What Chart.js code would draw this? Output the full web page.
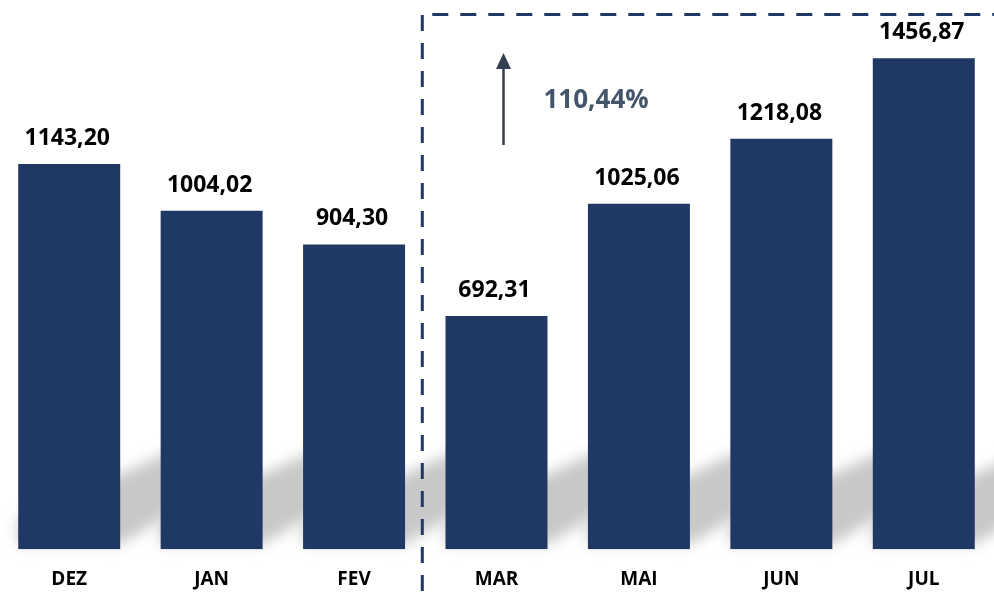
<!DOCTYPE html>
<html>
<head>
<meta charset="utf-8">
<script src="https://cdn.jsdelivr.net/npm/chart.js@4/dist/chart.umd.min.js"></script>
<style>
  html, body { margin: 0; padding: 0; background: #fff; overflow: hidden; }
  #wrap { width: 997px; height: 598px; position: relative; left: -2px; }
</style>
</head>
<body>
<div id="wrap"><canvas id="chart"></canvas></div>
<script>
const months = ['DEZ', 'JAN', 'FEV', 'MAR', 'MAI', 'JUN', 'JUL'];
const values = [1143.20, 1004.02, 904.30, 692.31, 1025.06, 1218.08, 1456.87];
const growthLabel = '110,44%';

const navy = '#203864';
const fontFam = '"Open Sans", "DejaVu Sans", sans-serif';

function fmt(v) {
    return v.toFixed(2).replace('.', ',');
}

// gray slanted shadow behind each bar
const barShadow = {
    id: 'barShadow',
    beforeDatasetsDraw(chart) {
        const ctx = chart.ctx;
        ctx.save();
        ctx.filter = 'blur(7px)';
        ctx.fillStyle = '#c8c8c8';
        chart.getDatasetMeta(0).data.forEach(bar => {
            const L = bar.x - bar.width / 2, R = bar.x + bar.width / 2, B = bar.base;
            ctx.beginPath();
            ctx.moveTo(L, B - 5);
            ctx.lineTo(R, B - 5);
            ctx.lineTo(R + 55, B - 38);
            ctx.lineTo(R + 55, B - 100);
            ctx.lineTo(R, B - 75);
            ctx.lineTo(L, B - 30);
            ctx.closePath();
            ctx.fill();
        });
        ctx.restore();
    }
};

// value labels, dashed box and growth arrow
const extras = {
    id: 'extras',
    afterDatasetsDraw(chart) {
        const ctx = chart.ctx;
        const bars = chart.getDatasetMeta(0).data;
        ctx.save();

        ctx.font = 'bold 23px ' + fontFam;
        ctx.fillStyle = '#000';
        ctx.textAlign = 'center';
        ctx.textBaseline = 'alphabetic';
        bars.forEach((bar, i) => {
            ctx.fillText(fmt(values[i]), bar.x - 2, bar.y - 19);
        });

        // dashed box around the second period
        const sx = (bars[2].x + bars[3].x) / 2 - 3;
        ctx.strokeStyle = navy;
        ctx.lineWidth = 3;
        ctx.setLineDash([16, 12]);
        ctx.beginPath();
        ctx.moveTo(sx, 15);
        ctx.lineTo(sx, chart.height);
        ctx.stroke();
        ctx.beginPath();
        ctx.moveTo(sx + 10, 14.5);
        ctx.lineTo(chart.width, 14.5);
        ctx.stroke();
        ctx.setLineDash([]);

        // arrow
        const ax = bars[3].x + 7;
        ctx.strokeStyle = '#333f50';
        ctx.fillStyle = '#333f50';
        ctx.lineWidth = 2.5;
        ctx.beginPath();
        ctx.moveTo(ax, 145);
        ctx.lineTo(ax, 66);
        ctx.stroke();
        ctx.beginPath();
        ctx.moveTo(ax - 7.5, 69);
        ctx.lineTo(ax + 7.5, 69);
        ctx.lineTo(ax, 53);
        ctx.closePath();
        ctx.fill();

        ctx.font = 'bold 26px ' + fontFam;
        ctx.fillStyle = '#44546a';
        ctx.textAlign = 'left';
        ctx.fillText(growthLabel, ax + 40, 108);

        ctx.restore();
    }
};

new Chart(document.getElementById('chart'), {
    type: 'bar',
    data: {
        labels: months,
        datasets: [{
            data: values,
            backgroundColor: navy,
            borderWidth: 0,
            categoryPercentage: 1,
            barPercentage: 0.716
        }]
    },
    options: {
        responsive: true,
        maintainAspectRatio: false,
        animation: false,
        layout: { padding: { top: 10, bottom: -12, left: 0, right: 0 } },
        plugins: { legend: { display: false }, tooltip: { enabled: false } },
        scales: {
            x: {
                grid: { display: false, drawTicks: false },
                border: { display: false },
                ticks: { color: '#000', font: { family: fontFam, size: 19, weight: 'bold' }, padding: 19 }
            },
            y: { display: false, min: 0, max: 1600 }
        }
    },
    plugins: [barShadow, extras]
});
</script>
</body>
</html>
